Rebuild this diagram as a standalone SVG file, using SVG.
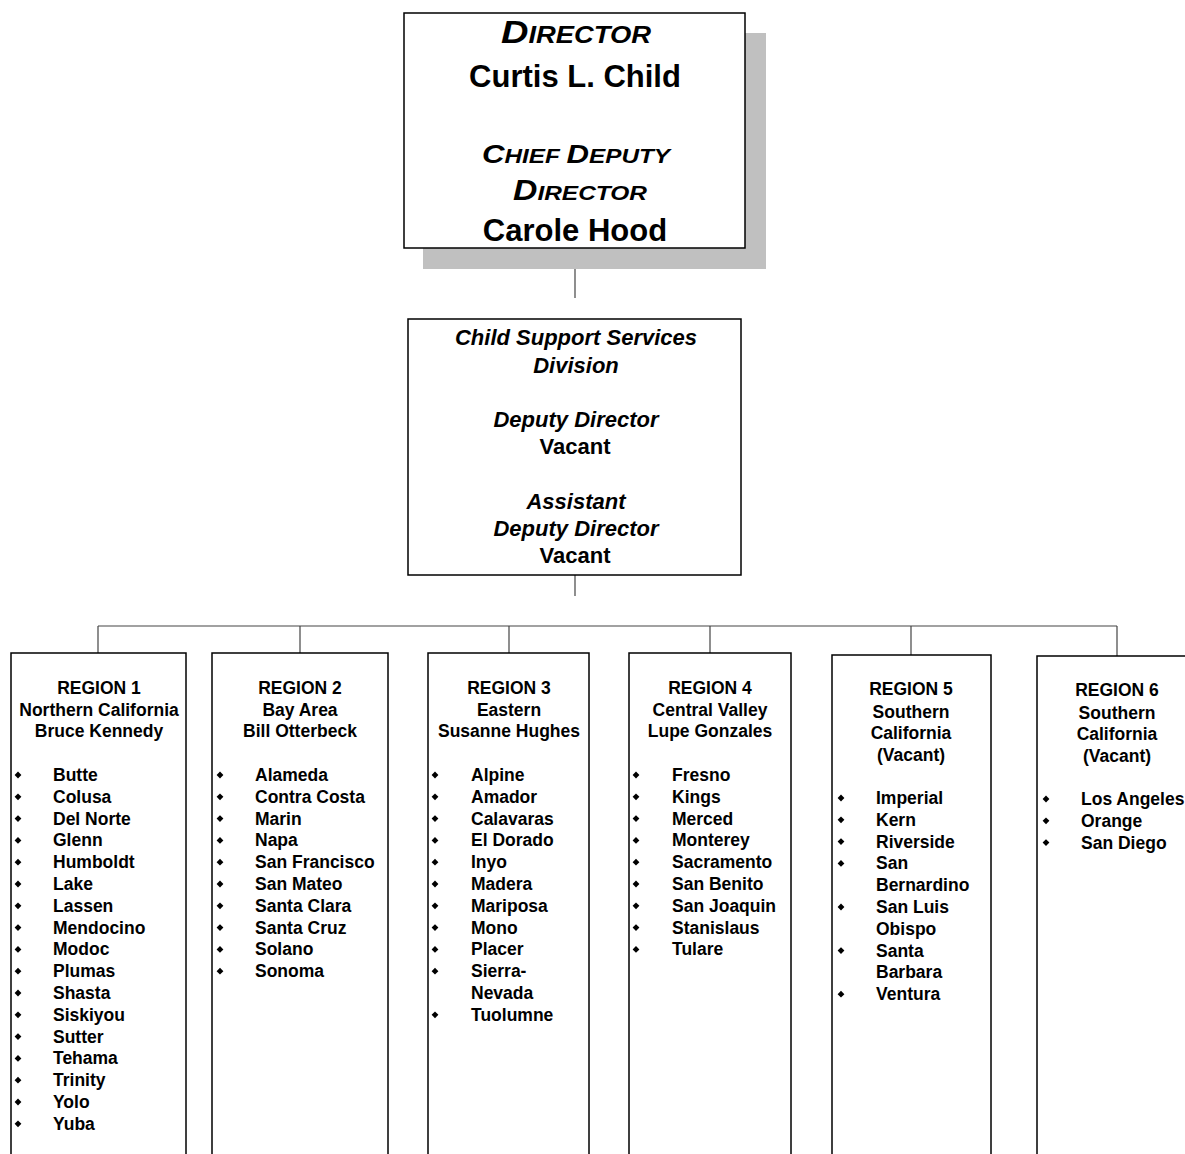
<svg xmlns="http://www.w3.org/2000/svg" width="1185" height="1154" viewBox="0 0 1185 1154">
<defs>
<style>
text{font-family:"Liberation Sans",Arial,sans-serif;font-weight:bold;fill:#000}
.box{fill:#fff;stroke:#000;stroke-width:1.5}
.conn{stroke:#444;stroke-width:1.2;fill:none}
.mid{text-anchor:middle}
.it{font-style:italic}
.hdr{font-size:17.5px;text-anchor:middle}
.li{font-size:17.5px}
</style>
<path id="b" d="M0,-3.4 L3.4,0 L0,3.4 L-3.4,0 Z" fill="#000"/>
</defs>
<rect width="1185" height="1154" fill="#fff"/>

<g id="connectors">
<line class="conn" x1="575" y1="248" x2="575" y2="298"/>
<line class="conn" x1="575" y1="575" x2="575" y2="596"/>
<line class="conn" x1="98" y1="626" x2="1117" y2="626"/>
<line class="conn" x1="98" y1="626" x2="98" y2="653"/>
<line class="conn" x1="300" y1="626" x2="300" y2="653"/>
<line class="conn" x1="509" y1="626" x2="509" y2="653"/>
<line class="conn" x1="710" y1="626" x2="710" y2="653"/>
<line class="conn" x1="911" y1="626" x2="911" y2="655"/>
<line class="conn" x1="1117" y1="626" x2="1117" y2="656"/>
</g>

<g id="director">
<rect x="423" y="33" width="343" height="236" fill="#c0c0c0"/>
<rect class="box" x="404" y="13" width="341" height="235"/>
<text class="mid it" x="576" y="43" textLength="150" lengthAdjust="spacingAndGlyphs"><tspan font-size="32">D</tspan><tspan font-size="23">IRECTOR</tspan></text>
<text class="mid" x="575" y="87" font-size="31">Curtis L. Child</text>
<text class="mid it" x="576" y="163" textLength="188" lengthAdjust="spacingAndGlyphs"><tspan font-size="25">C</tspan><tspan font-size="19.5">HIEF </tspan><tspan font-size="25">D</tspan><tspan font-size="19.5">EPUTY</tspan></text>
<text class="mid it" x="580" y="200" textLength="134" lengthAdjust="spacingAndGlyphs"><tspan font-size="29">D</tspan><tspan font-size="21">IRECTOR</tspan></text>
<text class="mid" x="575" y="241" font-size="31">Carole Hood</text>
</g>

<g id="division">
<rect class="box" x="408" y="319" width="333" height="256"/>
<text class="mid it" x="576" y="345" font-size="22">Child Support Services</text>
<text class="mid it" x="576" y="373" font-size="22">Division</text>
<text class="mid it" x="576" y="427" font-size="22">Deputy Director</text>
<text class="mid" x="575" y="454" font-size="22">Vacant</text>
<text class="mid it" x="576" y="509" font-size="22">Assistant</text>
<text class="mid it" x="576" y="536" font-size="22">Deputy Director</text>
<text class="mid" x="575" y="563" font-size="22">Vacant</text>
</g>

<g id="region1">
<rect class="box" x="11" y="653" width="175" height="520"/>
<text class="hdr" x="99" y="694">REGION 1</text>
<text class="hdr" x="99" y="716">Northern California</text>
<text class="hdr" x="99" y="737">Bruce Kennedy</text>
<use href="#b" x="18" y="775"/><text class="li" x="53" y="781">Butte</text>
<use href="#b" x="18" y="796.8"/><text class="li" x="53" y="802.8">Colusa</text>
<use href="#b" x="18" y="818.6"/><text class="li" x="53" y="824.6">Del Norte</text>
<use href="#b" x="18" y="840.4"/><text class="li" x="53" y="846.4">Glenn</text>
<use href="#b" x="18" y="862.2"/><text class="li" x="53" y="868.2">Humboldt</text>
<use href="#b" x="18" y="884"/><text class="li" x="53" y="890">Lake</text>
<use href="#b" x="18" y="905.8"/><text class="li" x="53" y="911.8">Lassen</text>
<use href="#b" x="18" y="927.6"/><text class="li" x="53" y="933.6">Mendocino</text>
<use href="#b" x="18" y="949.4"/><text class="li" x="53" y="955.4">Modoc</text>
<use href="#b" x="18" y="971.2"/><text class="li" x="53" y="977.2">Plumas</text>
<use href="#b" x="18" y="993"/><text class="li" x="53" y="999">Shasta</text>
<use href="#b" x="18" y="1014.8"/><text class="li" x="53" y="1020.8">Siskiyou</text>
<use href="#b" x="18" y="1036.6"/><text class="li" x="53" y="1042.6">Sutter</text>
<use href="#b" x="18" y="1058.4"/><text class="li" x="53" y="1064.4">Tehama</text>
<use href="#b" x="18" y="1080.2"/><text class="li" x="53" y="1086.2">Trinity</text>
<use href="#b" x="18" y="1102"/><text class="li" x="53" y="1108">Yolo</text>
<use href="#b" x="18" y="1123.8"/><text class="li" x="53" y="1129.8">Yuba</text>
</g>

<g id="region2">
<rect class="box" x="212" y="653" width="176" height="520"/>
<text class="hdr" x="300" y="694">REGION 2</text>
<text class="hdr" x="300" y="716">Bay Area</text>
<text class="hdr" x="300" y="737">Bill Otterbeck</text>
<use href="#b" x="220" y="775"/><text class="li" x="255" y="781">Alameda</text>
<use href="#b" x="220" y="796.8"/><text class="li" x="255" y="802.8">Contra Costa</text>
<use href="#b" x="220" y="818.6"/><text class="li" x="255" y="824.6">Marin</text>
<use href="#b" x="220" y="840.4"/><text class="li" x="255" y="846.4">Napa</text>
<use href="#b" x="220" y="862.2"/><text class="li" x="255" y="868.2">San Francisco</text>
<use href="#b" x="220" y="884"/><text class="li" x="255" y="890">San Mateo</text>
<use href="#b" x="220" y="905.8"/><text class="li" x="255" y="911.8">Santa Clara</text>
<use href="#b" x="220" y="927.6"/><text class="li" x="255" y="933.6">Santa Cruz</text>
<use href="#b" x="220" y="949.4"/><text class="li" x="255" y="955.4">Solano</text>
<use href="#b" x="220" y="971.2"/><text class="li" x="255" y="977.2">Sonoma</text>
</g>

<g id="region3">
<rect class="box" x="428" y="653" width="161" height="520"/>
<text class="hdr" x="509" y="694">REGION 3</text>
<text class="hdr" x="509" y="716">Eastern</text>
<text class="hdr" x="509" y="737">Susanne Hughes</text>
<use href="#b" x="435" y="775"/><text class="li" x="471" y="781">Alpine</text>
<use href="#b" x="435" y="796.8"/><text class="li" x="471" y="802.8">Amador</text>
<use href="#b" x="435" y="818.6"/><text class="li" x="471" y="824.6">Calavaras</text>
<use href="#b" x="435" y="840.4"/><text class="li" x="471" y="846.4">El Dorado</text>
<use href="#b" x="435" y="862.2"/><text class="li" x="471" y="868.2">Inyo</text>
<use href="#b" x="435" y="884"/><text class="li" x="471" y="890">Madera</text>
<use href="#b" x="435" y="905.8"/><text class="li" x="471" y="911.8">Mariposa</text>
<use href="#b" x="435" y="927.6"/><text class="li" x="471" y="933.6">Mono</text>
<use href="#b" x="435" y="949.4"/><text class="li" x="471" y="955.4">Placer</text>
<use href="#b" x="435" y="971.2"/><text class="li" x="471" y="977.2">Sierra-</text>
<text class="li" x="471" y="999">Nevada</text>
<use href="#b" x="435" y="1014.8"/><text class="li" x="471" y="1020.8">Tuolumne</text>
</g>

<g id="region4">
<rect class="box" x="629" y="653" width="162" height="520"/>
<text class="hdr" x="710" y="694">REGION 4</text>
<text class="hdr" x="710" y="716">Central Valley</text>
<text class="hdr" x="710" y="737">Lupe Gonzales</text>
<use href="#b" x="636" y="775"/><text class="li" x="672" y="781">Fresno</text>
<use href="#b" x="636" y="796.8"/><text class="li" x="672" y="802.8">Kings</text>
<use href="#b" x="636" y="818.6"/><text class="li" x="672" y="824.6">Merced</text>
<use href="#b" x="636" y="840.4"/><text class="li" x="672" y="846.4">Monterey</text>
<use href="#b" x="636" y="862.2"/><text class="li" x="672" y="868.2">Sacramento</text>
<use href="#b" x="636" y="884"/><text class="li" x="672" y="890">San Benito</text>
<use href="#b" x="636" y="905.8"/><text class="li" x="672" y="911.8">San Joaquin</text>
<use href="#b" x="636" y="927.6"/><text class="li" x="672" y="933.6">Stanislaus</text>
<use href="#b" x="636" y="949.4"/><text class="li" x="672" y="955.4">Tulare</text>
</g>

<g id="region5">
<rect class="box" x="832" y="655" width="159" height="520"/>
<text class="hdr" x="911" y="695">REGION 5</text>
<text class="hdr" x="911" y="718">Southern</text>
<text class="hdr" x="911" y="739">California</text>
<text class="hdr" x="911" y="761">(Vacant)</text>
<use href="#b" x="841" y="798"/><text class="li" x="876" y="804">Imperial</text>
<use href="#b" x="841" y="819.8"/><text class="li" x="876" y="825.8">Kern</text>
<use href="#b" x="841" y="841.6"/><text class="li" x="876" y="847.6">Riverside</text>
<use href="#b" x="841" y="863.4"/><text class="li" x="876" y="869.4">San</text>
<text class="li" x="876" y="891.2">Bernardino</text>
<use href="#b" x="841" y="907"/><text class="li" x="876" y="913">San Luis</text>
<text class="li" x="876" y="934.8">Obispo</text>
<use href="#b" x="841" y="950.6"/><text class="li" x="876" y="956.6">Santa</text>
<text class="li" x="876" y="978.4">Barbara</text>
<use href="#b" x="841" y="994.2"/><text class="li" x="876" y="1000.2">Ventura</text>
</g>

<g id="region6">
<rect class="box" x="1037" y="656" width="170" height="520"/>
<text class="hdr" x="1117" y="696">REGION 6</text>
<text class="hdr" x="1117" y="719">Southern</text>
<text class="hdr" x="1117" y="740">California</text>
<text class="hdr" x="1117" y="762">(Vacant)</text>
<use href="#b" x="1046" y="799"/><text class="li" x="1081" y="805">Los Angeles</text>
<use href="#b" x="1046" y="820.8"/><text class="li" x="1081" y="826.8">Orange</text>
<use href="#b" x="1046" y="842.6"/><text class="li" x="1081" y="848.6">San Diego</text>
</g>
</svg>
